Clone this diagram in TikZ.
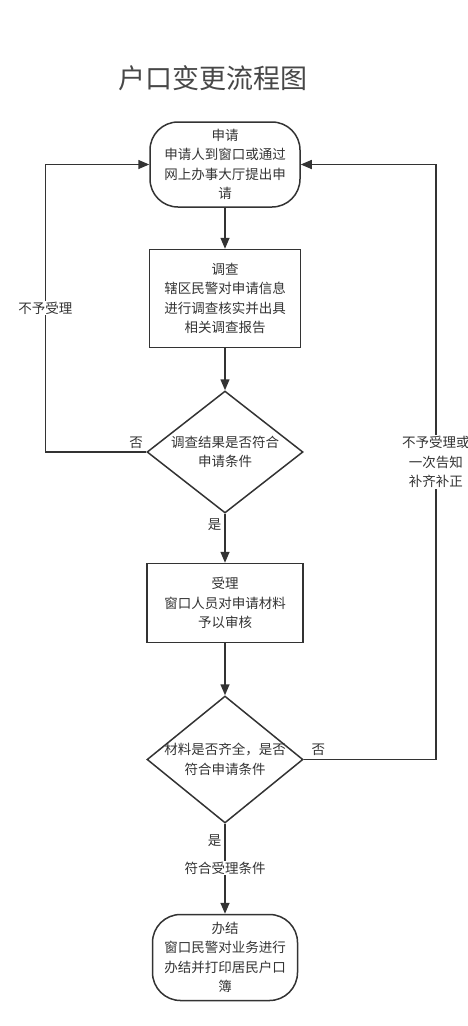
\documentclass[tikz,border=0pt]{standalone}
\usepackage{fontspec}
\setmainfont{Noto Sans CJK SC}
\usetikzlibrary{arrows.meta, positioning, shapes.geometric}
\definecolor{ink}{HTML}{333333}
\tikzset{
  txt/.style={text=ink, font=\fontsize{13.5}{19.5}\selectfont, align=center},
  base/.style={txt, draw=ink, line width=1.5pt},
  term/.style={base, rounded corners=28pt, minimum width=150pt, minimum height=85pt},
  proc/.style={base, minimum width=151pt, minimum height=98pt},
  decide/.style={base, diamond, minimum width=156pt, minimum height=122pt, inner sep=0pt},
  flow/.style={draw=ink, line width=1.5pt, ->},
  lbl/.style={txt, inner sep=1pt},
}

\begin{document}
\begin{tikzpicture}[x=1pt, y=-1pt, >={Triangle[length=11pt, width=9pt]}]
  \useasboundingbox (0,0) rectangle (467,1026);

  \node[text=ink!90, font=\fontsize{27}{30}\selectfont] (title) at (213,78) {户口变更流程图};

  \node[term] (apply) at (225,164.5)
    {申请\\申请人到窗口或通过\\网上办事大厅提出申\\请};
  \node[proc, below=41pt of apply] (survey)
    {调查\\辖区民警对申请信息\\进行调查核实并出具\\相关调查报告};
  \node[decide, below=42pt of survey,
        label={[lbl]center:调查结果是否符合\\申请条件}] (check1) {};
  \node[proc, minimum width=156pt, minimum height=79pt, below=49pt of check1] (accept)
    {受理\\窗口人员对申请材料\\予以审核};
  \node[decide, minimum height=127pt, below=52pt of accept,
        label={[lbl]center:材料是否齐全，是否\\符合申请条件}] (check2) {};
  \node[term, minimum width=145pt, minimum height=86pt, below=90pt of check2] (finish)
    {办结\\窗口民警对业务进行\\办结并打印居民户口\\簿};

  \draw[flow] (apply) -- (survey);
  \draw[flow] (survey) -- (check1);
  \draw[flow] (check1) -- node[lbl, pos=0.22, left=2pt] {是} (accept);
  \draw[flow] (accept) -- (check2);
  \draw[flow] (check2) -- node[lbl, pos=0.19, left=2pt] {是}
    node[lbl, pos=0.49, fill=white] {符合受理条件} (finish);

  % back to the start
  \draw[flow] (check1.west) -- node[lbl, pos=0.1, above=2pt] {否} ++(-101,0)
    |- node[lbl, pos=0.25, fill=white] {不予受理} (apply.west);
  \draw[flow] (check2.east) -- node[lbl, pos=0.11, above=2pt] {否} ++(132,0)
    |- node[lbl, pos=0.25, fill=white] {不予受理或\\一次告知\\补齐补正} (apply.east);
\end{tikzpicture}
\end{document}
